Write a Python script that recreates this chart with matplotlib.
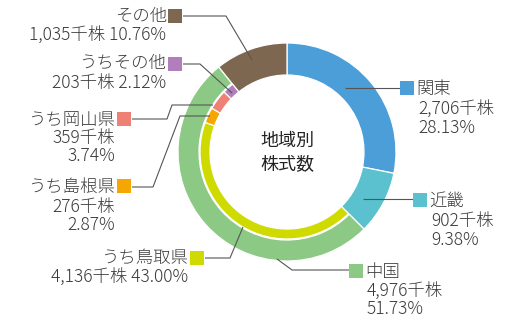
import matplotlib.pyplot as plt

plt.rcParams['font.family'] = ['Noto Sans CJK JP', 'DejaVu Sans']

# data (千株, %)
regions = ['関東', '近畿', '中国', 'その他']
region_shares = [2706, 902, 4976, 1035]
region_pcts = [28.13, 9.38, 51.73, 10.76]
region_colors = ['#4c9ed8', '#5bc1cf', '#8cc985', '#7d6751']

parts = ['うち鳥取県', 'うち島根県', 'うち岡山県', 'うちその他']
part_shares = [4136, 276, 359, 203]
part_pcts = [43.00, 2.87, 3.74, 2.12]
part_colors = ['#cfdb00', '#f5a600', '#ef8174', '#b07fbb']

txt_color = '#3a3a3a'
line_color = '#555555'

fig = plt.figure(figsize=(5.2, 3.25), dpi=100)
ax = fig.add_axes([0, 0, 1, 1])

cx, cy = 287, 152
R = 109

# outer ring (y axis is inverted later, so start at -90 and go "counterclockwise")
outer, _ = ax.pie(region_shares, colors=region_colors, radius=R, center=(cx, cy),
                  startangle=-90, counterclock=True,
                  wedgeprops=dict(width=32, edgecolor='white', linewidth=0.9))
outer[2].set_width(21)  # 中国 is split, inner part shows the breakdown

# inner ring, only the 中国 breakdown is visible
inner_vals = region_shares[:2] + part_shares + region_shares[3:]
inner_cols = region_colors[:2] + part_colors + region_colors[3:]
inner, _ = ax.pie(inner_vals, colors=inner_cols, radius=R - 22, center=(cx, cy),
                  startangle=-90, counterclock=True,
                  wedgeprops=dict(width=10, edgecolor='white', linewidth=0.9))
for i in (0, 1, 6):
    inner[i].set_visible(False)

ax.text(cx, cy - 11, '地域別', ha='center', va='center', fontsize=13, color='#222222')
ax.text(cx, cy + 12, '株式数', ha='center', va='center', fontsize=13, color='#222222')

# labels: name, value, pct, color, square centre, leader, text x, line ys, ha, joined
labels = [
    (regions[0], region_shares[0], region_pcts[0], region_colors[0], (407, 88),
     [(345, 88), (400, 88)], 416, [89, 109, 128], 'left', False),
    (regions[1], region_shares[1], region_pcts[1], region_colors[1], (420, 200),
     [(363, 199), (413, 199)], 429, [201, 221, 240], 'left', False),
    (regions[2], region_shares[2], region_pcts[2], region_colors[2], (356, 271),
     [(277, 259), (292, 270), (349, 270)], 365, [272, 291, 309], 'left', False),
    (regions[3], region_shares[3], region_pcts[3], region_colors[3], (175, 16),
     [(252, 60), (226, 16), (183, 16)], 167, [16, 35], 'right', True),
    (parts[3], part_shares[3], part_pcts[3], part_colors[3], (175, 64),
     [(232, 93), (200, 64), (183, 64)], 167, [63, 83], 'right', True),
    (parts[2], part_shares[2], part_pcts[2], part_colors[2], (124, 119),
     [(213, 105), (172, 105), (167, 119), (132, 119)], 116, [120, 138, 156], 'right', False),
    (parts[1], part_shares[1], part_pcts[1], part_colors[1], (124, 186),
     [(210, 116), (180, 116), (153, 187), (132, 187)], 116, [187, 207, 225], 'right', False),
    (parts[0], part_shares[0], part_pcts[0], part_colors[0], (197, 258),
     [(243, 227), (230, 258), (205, 258)], 189, [258, 277], 'right', True),
]

for name, val, pct, col, sq, leader, tx, ys, ha, joined in labels:
    xs = [p[0] for p in leader]
    yy = [p[1] for p in leader]
    ax.plot(xs, yy, color=line_color, lw=0.8, solid_capstyle='butt')
    ax.plot(sq[0], sq[1], marker='s', markersize=10.5, color=col, markeredgewidth=0)
    if joined:
        lines = [name, f'{val:,}千株 {pct:.2f}%']
    else:
        lines = [name, f'{val:,}千株', f'{pct:.2f}%']
    for k, (s, y) in enumerate(zip(lines, ys)):
        ax.text(tx if k == 0 else tx + (2 if ha == 'left' else -1), y, s, ha=ha, va='center',
                fontsize=12.5, color=txt_color, fontweight='light')

ax.set_xlim(0, 520)
ax.set_ylim(325, 0)
ax.set_aspect('equal')
ax.axis('off')

fig.savefig('out.png', dpi=100)
